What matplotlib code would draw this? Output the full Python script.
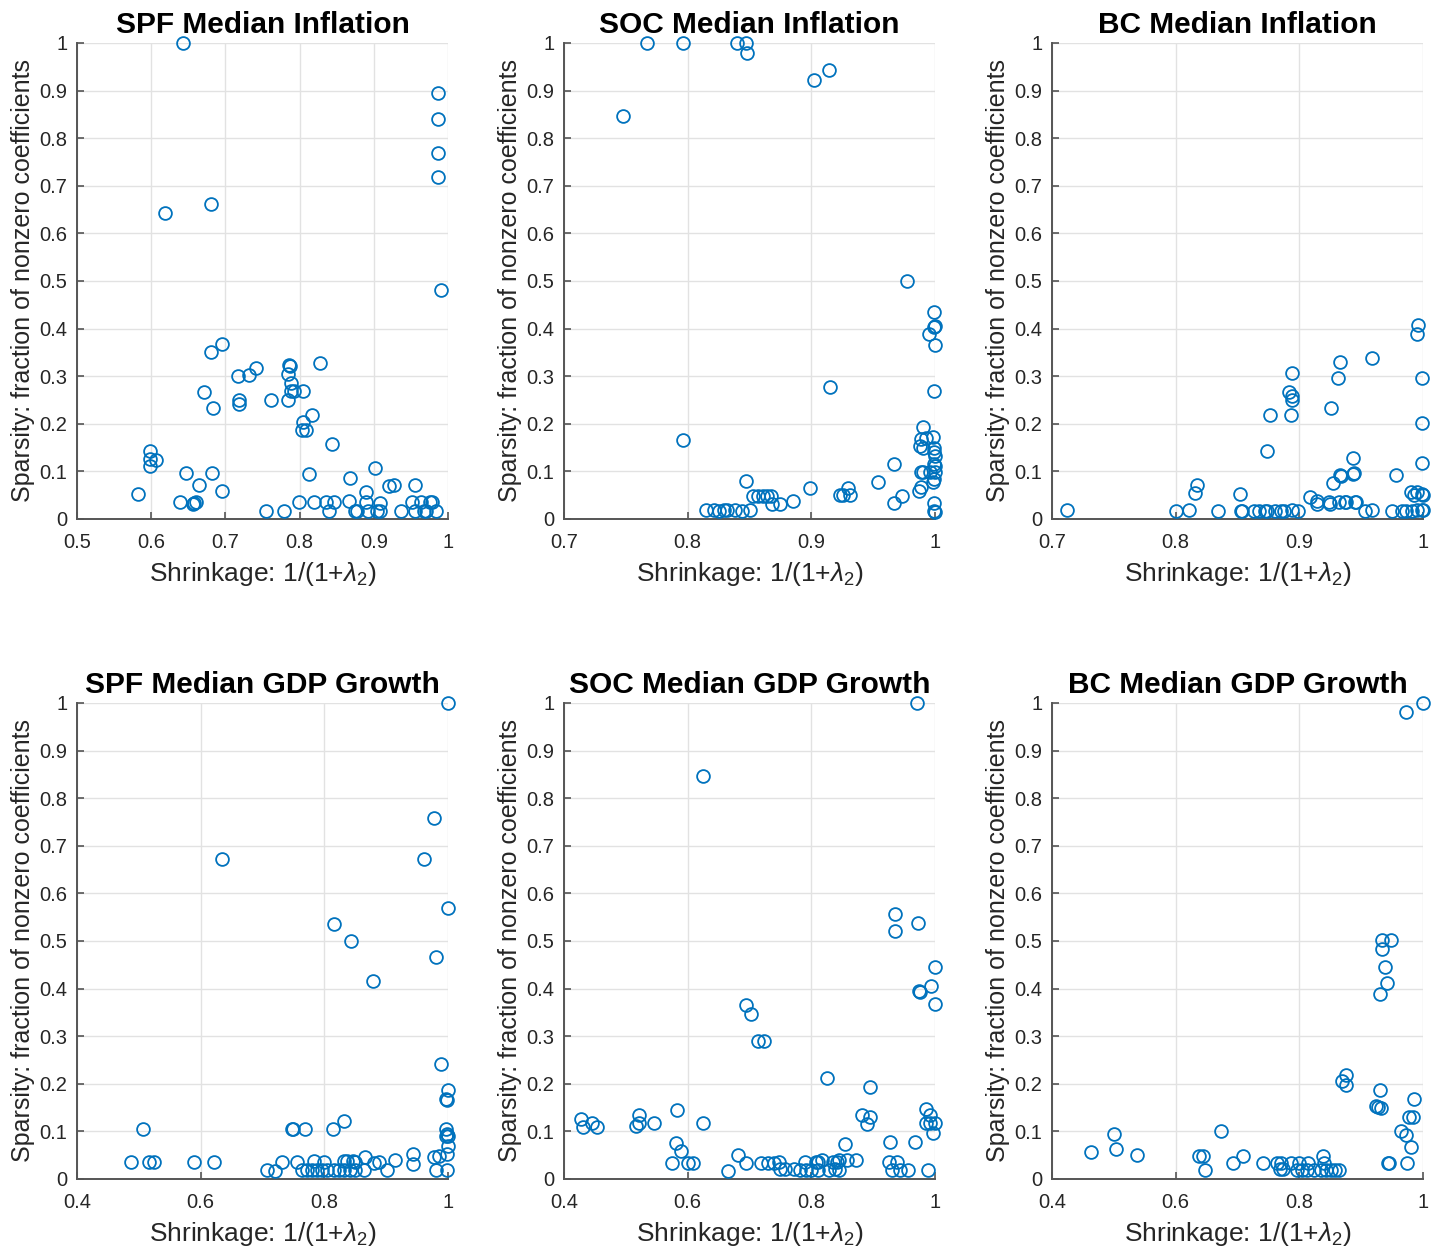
import matplotlib
matplotlib.use("Agg")
import matplotlib.pyplot as plt
from matplotlib.ticker import FuncFormatter

plt.rcParams['font.family'] = ['Liberation Sans', 'DejaVu Sans']
plt.rcParams['mathtext.fontset'] = 'custom'
plt.rcParams['mathtext.rm'] = 'Liberation Sans'
plt.rcParams['mathtext.it'] = 'Liberation Sans:italic'

# ---- datos ----
spf_infl_x = [0.643, 0.987, 0.986, 0.986, 0.987, 0.990, 0.619, 0.680, 0.695, 0.681,
              0.741, 0.732, 0.717, 0.786, 0.787, 0.784, 0.788, 0.789, 0.792, 0.805,
              0.828, 0.671, 0.683, 0.719, 0.718, 0.762, 0.785, 0.817, 0.805, 0.803,
              0.808, 0.844, 0.599, 0.599, 0.606, 0.599, 0.582, 0.647, 0.664, 0.682,
              0.696, 0.639, 0.656, 0.658, 0.660, 0.755, 0.779, 0.799, 0.813, 0.820,
              0.835, 0.839, 0.846, 0.868, 0.866, 0.901, 0.890, 0.889, 0.878, 0.875,
              0.892, 0.904, 0.908, 0.909, 0.920, 0.927, 0.936, 0.955, 0.952, 0.956,
              0.964, 0.967, 0.971, 0.976, 0.978, 0.984]
spf_infl_y = [1.000, 0.894, 0.840, 0.768, 0.719, 0.482, 0.643, 0.661, 0.367, 0.350,
              0.317, 0.303, 0.300, 0.323, 0.321, 0.304, 0.286, 0.269, 0.269, 0.269,
              0.328, 0.267, 0.234, 0.251, 0.241, 0.251, 0.250, 0.219, 0.204, 0.188,
              0.188, 0.157, 0.143, 0.127, 0.125, 0.111, 0.052, 0.097, 0.072, 0.097,
              0.058, 0.036, 0.031, 0.034, 0.036, 0.017, 0.017, 0.036, 0.094, 0.036,
              0.036, 0.017, 0.036, 0.087, 0.038, 0.108, 0.056, 0.036, 0.017, 0.017,
              0.017, 0.017, 0.033, 0.017, 0.070, 0.072, 0.017, 0.072, 0.036, 0.017,
              0.036, 0.017, 0.017, 0.036, 0.036, 0.017]

soc_infl_x = [0.767, 0.796, 0.840, 0.847, 0.848, 0.902, 0.914, 0.748, 0.977, 0.999,
              0.999, 1.000, 0.995, 1.000, 0.915, 0.999, 0.796, 0.990, 0.989, 0.993,
              0.998, 0.988, 0.990, 0.999, 0.999, 1.000, 0.999, 1.000, 0.967, 0.989,
              0.990, 0.996, 1.000, 0.999, 0.998, 0.989, 0.987, 0.954, 0.973, 0.967,
              0.999, 0.999, 1.000, 0.847, 0.899, 0.930, 0.923, 0.926, 0.931, 0.853,
              0.857, 0.861, 0.864, 0.867, 0.868, 0.875, 0.885, 0.815, 0.821, 0.825,
              0.829, 0.832, 0.838, 0.844, 0.850]
soc_infl_y = [1.000, 1.000, 1.000, 1.000, 0.980, 0.923, 0.943, 0.846, 0.500, 0.435,
              0.404, 0.405, 0.389, 0.366, 0.278, 0.269, 0.167, 0.193, 0.168, 0.170,
              0.173, 0.154, 0.149, 0.150, 0.140, 0.133, 0.115, 0.112, 0.115, 0.099,
              0.099, 0.098, 0.098, 0.084, 0.077, 0.068, 0.058, 0.077, 0.049, 0.033,
              0.033, 0.017, 0.015, 0.080, 0.066, 0.065, 0.050, 0.050, 0.050, 0.049,
              0.049, 0.049, 0.049, 0.049, 0.031, 0.031, 0.038, 0.019, 0.019, 0.017,
              0.019, 0.019, 0.019, 0.017, 0.019]

bc_infl_x = [0.712, 0.996, 0.995, 0.959, 0.933, 0.931, 0.999, 0.894, 0.892, 0.894,
             0.894, 0.926, 0.876, 0.893, 0.999, 0.874, 0.943, 0.999, 0.933, 0.934,
             0.944, 0.943, 0.978, 0.927, 0.817, 0.816, 0.852, 0.909, 0.914, 0.914,
             0.924, 0.925, 0.932, 0.937, 0.938, 0.945, 0.946, 0.990, 0.995, 0.993,
             0.999, 1.000, 0.800, 0.811, 0.834, 0.853, 0.854, 0.863, 0.867, 0.872,
             0.874, 0.880, 0.885, 0.888, 0.894, 0.899, 0.953, 0.959, 0.975, 0.983,
             0.986, 0.991, 0.995, 0.999, 1.000]
bc_infl_y = [0.019, 0.407, 0.388, 0.339, 0.329, 0.297, 0.297, 0.307, 0.267, 0.258,
             0.250, 0.234, 0.219, 0.219, 0.201, 0.143, 0.129, 0.117, 0.093, 0.091,
             0.096, 0.095, 0.093, 0.075, 0.072, 0.054, 0.052, 0.047, 0.038, 0.031,
             0.035, 0.031, 0.035, 0.035, 0.035, 0.035, 0.035, 0.056, 0.056, 0.051,
             0.052, 0.051, 0.017, 0.019, 0.017, 0.017, 0.017, 0.017, 0.016, 0.016,
             0.016, 0.017, 0.017, 0.017, 0.019, 0.016, 0.016, 0.019, 0.017, 0.016,
             0.016, 0.017, 0.019, 0.019, 0.019]

spf_gdp_x = [1.000, 0.977, 0.634, 0.961, 1.000, 0.815, 0.843, 0.981, 0.879, 0.989,
             1.000, 0.997, 0.998, 0.507, 0.748, 0.750, 0.769, 0.814, 0.831, 0.997,
             0.998, 1.000, 0.996, 1.000, 0.999, 0.985, 0.978, 0.943, 0.943, 0.915,
             0.889, 0.881, 0.866, 0.864, 0.901, 0.980, 0.998, 0.488, 0.516, 0.525,
             0.589, 0.622, 0.707, 0.721, 0.732, 0.756, 0.783, 0.800, 0.764, 0.772,
             0.780, 0.788, 0.796, 0.804, 0.815, 0.823, 0.831, 0.831, 0.837, 0.846,
             0.850, 0.842, 0.850]
spf_gdp_y = [1.000, 0.759, 0.673, 0.673, 0.569, 0.535, 0.501, 0.467, 0.415, 0.242,
             0.186, 0.168, 0.167, 0.105, 0.105, 0.105, 0.105, 0.105, 0.121, 0.106,
             0.095, 0.091, 0.090, 0.070, 0.053, 0.049, 0.046, 0.053, 0.032, 0.039,
             0.035, 0.033, 0.047, 0.018, 0.018, 0.018, 0.018, 0.036, 0.036, 0.036,
             0.036, 0.036, 0.018, 0.016, 0.035, 0.035, 0.037, 0.035, 0.018, 0.018,
             0.018, 0.018, 0.018, 0.018, 0.018, 0.018, 0.018, 0.037, 0.037, 0.037,
             0.035, 0.018, 0.018]

soc_gdp_x = [0.971, 0.624, 0.936, 0.935, 0.973, 1.000, 0.994, 0.974, 0.975, 1.000,
             0.694, 0.702, 0.713, 0.724, 0.825, 0.895, 0.985, 0.992, 0.986, 0.992,
             1.000, 0.996, 0.882, 0.895, 0.890, 0.927, 0.967, 0.855, 0.872, 0.857,
             0.925, 0.938, 0.930, 0.943, 0.957, 0.988, 0.427, 0.430, 0.446, 0.454,
             0.522, 0.522, 0.516, 0.546, 0.582, 0.624, 0.581, 0.589, 0.574, 0.601,
             0.609, 0.666, 0.681, 0.695, 0.719, 0.730, 0.740, 0.747, 0.749, 0.758,
             0.772, 0.782, 0.789, 0.792, 0.800, 0.808, 0.811, 0.817, 0.810, 0.829,
             0.835, 0.841, 0.845, 0.838, 0.844]
soc_gdp_y = [1.000, 0.847, 0.556, 0.520, 0.537, 0.446, 0.406, 0.394, 0.393, 0.367,
             0.366, 0.347, 0.290, 0.290, 0.213, 0.194, 0.147, 0.135, 0.117, 0.117,
             0.117, 0.096, 0.135, 0.131, 0.116, 0.078, 0.078, 0.073, 0.039, 0.040,
             0.035, 0.035, 0.018, 0.018, 0.018, 0.018, 0.127, 0.109, 0.117, 0.109,
             0.135, 0.117, 0.112, 0.117, 0.144, 0.117, 0.076, 0.058, 0.034, 0.034,
             0.034, 0.017, 0.051, 0.033, 0.034, 0.034, 0.034, 0.036, 0.020, 0.020,
             0.020, 0.018, 0.035, 0.018, 0.018, 0.036, 0.035, 0.039, 0.018, 0.018,
             0.035, 0.035, 0.018, 0.021, 0.039]

bc_gdp_x = [1.000, 0.972, 0.934, 0.948, 0.934, 0.939, 0.941, 0.931, 0.869, 0.875,
            0.876, 0.930, 0.924, 0.928, 0.932, 0.986, 0.978, 0.984, 0.964, 0.972,
            0.980, 0.943, 0.945, 0.974, 0.500, 0.463, 0.503, 0.538, 0.674, 0.638,
            0.644, 0.648, 0.692, 0.709, 0.741, 0.764, 0.770, 0.768, 0.773, 0.786,
            0.800, 0.814, 0.797, 0.805, 0.813, 0.824, 0.838, 0.840, 0.835, 0.843,
            0.851, 0.858, 0.864]
bc_gdp_y = [1.000, 0.982, 0.502, 0.502, 0.483, 0.446, 0.411, 0.389, 0.205, 0.218,
            0.197, 0.186, 0.154, 0.151, 0.149, 0.168, 0.131, 0.131, 0.101, 0.093,
            0.068, 0.033, 0.033, 0.033, 0.095, 0.057, 0.063, 0.051, 0.101, 0.048,
            0.048, 0.018, 0.034, 0.048, 0.034, 0.034, 0.034, 0.021, 0.021, 0.034,
            0.034, 0.034, 0.018, 0.018, 0.018, 0.018, 0.048, 0.034, 0.018, 0.018,
            0.018, 0.019, 0.019]

titles = ["SPF Median Inflation", "SOC Median Inflation", "BC Median Inflation",
          "SPF Median GDP Growth", "SOC Median GDP Growth", "BC Median GDP Growth"]
panel_x = [spf_infl_x, soc_infl_x, bc_infl_x, spf_gdp_x, soc_gdp_x, bc_gdp_x]
panel_y = [spf_infl_y, soc_infl_y, bc_infl_y, spf_gdp_y, soc_gdp_y, bc_gdp_y]
x_ranges = [(0.5, 1.0, 0.1), (0.7, 1.0, 0.1), (0.7, 1.0, 0.1),
            (0.4, 1.0, 0.2), (0.4, 1.0, 0.2), (0.4, 1.0, 0.2)]

fig = plt.figure(figsize=(14.45, 12.54), dpi=100)
W, H = 1445, 1254
lefts = [77, 564, 1052]
tops = [43, 703]
aw, ah = 371, 476

fmt = FuncFormatter(lambda v, p: f"{round(v, 2):g}")

for i in range(6):
    r, c = divmod(i, 3)
    ax = fig.add_axes([lefts[c] / W, 1 - (tops[r] + ah) / H, aw / W, ah / H])
    ax.plot(panel_x[i], panel_y[i], 'o', mfc='none', mec='#0072BD', ms=9.2, mew=1.3,
            clip_on=False, zorder=3)
    x0, x1, st = x_ranges[i]
    ax.set_xlim(x0, x1)
    ax.set_ylim(0, 1)
    n = int(round((x1 - x0) / st))
    ax.set_xticks([x0 + k * st for k in range(n + 1)])
    ax.set_yticks([k / 10 for k in range(11)])
    ax.xaxis.set_major_formatter(fmt)
    ax.yaxis.set_major_formatter(fmt)
    ax.grid(True, color='#e2e2e2', lw=1.0)
    ax.set_axisbelow(True)
    for s in ['top', 'right']:
        ax.spines[s].set_visible(False)
    for s in ['left', 'bottom']:
        ax.spines[s].set_color('#555555')
        ax.spines[s].set_linewidth(1.4)
    ax.tick_params(direction='in', length=5, width=1.2, color='#555555',
                   labelcolor='#262626', labelsize=14.5)
    ax.tick_params(axis='x', pad=10)
    ax.tick_params(axis='y', pad=7)
    ax.set_title(titles[i], fontsize=21.5, fontweight='bold', pad=7)
    ax.set_xlabel(r'Shrinkage: 1/(1+$\lambda_2$)', fontsize=19, color='#262626', labelpad=6)
    ax.set_ylabel('Sparsity: fraction of nonzero coefficients', fontsize=18,
                  color='#262626', labelpad=3)

fig.savefig("out.png", dpi=100)
